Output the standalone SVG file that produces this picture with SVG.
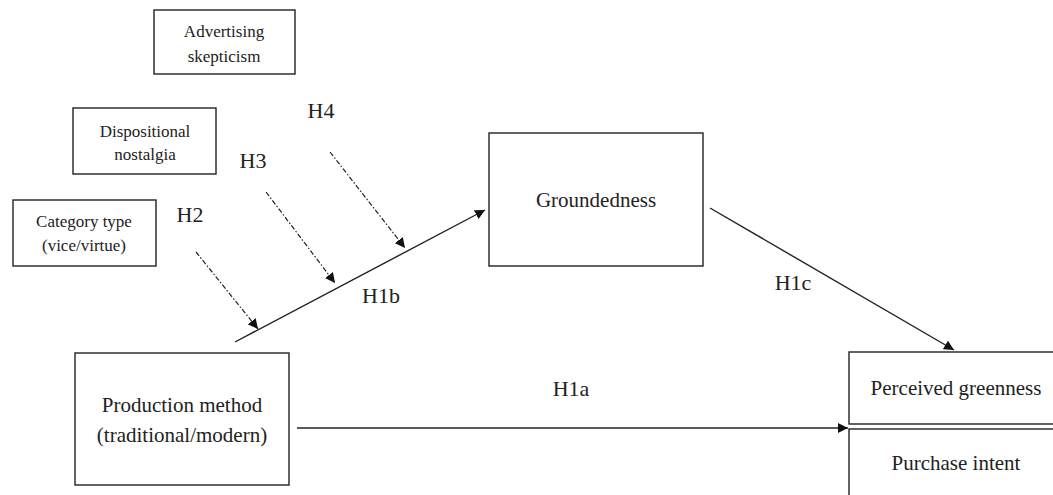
<svg xmlns="http://www.w3.org/2000/svg" width="1053" height="495" viewBox="0 0 1053 495">
<style>
.box{fill:#fff;stroke:#222;stroke-width:1.4}
text{font-family:'Liberation Serif','Times New Roman','DejaVu Serif',serif;fill:#222;text-anchor:middle}
.s{font-size:17px}
.b{font-size:21px}
.h{font-size:22px}
.ln{stroke:#222;stroke-width:1.4;fill:none}
.dd{stroke:#222;stroke-width:1.2;fill:none;stroke-dasharray:5 2 1.5 2}
</style>
<defs>
<marker id="ah" viewBox="0 0 10 10" refX="10" refY="5" markerWidth="10" markerHeight="10" markerUnits="userSpaceOnUse" orient="auto">
<path d="M0,0 L10,5 L0,10 z" fill="#111"/>
</marker>
</defs>
<rect width="1053" height="495" fill="#fff"/>
<g id="advertising-skepticism">
<rect class="box" x="154" y="10" width="141" height="64"/>
<text class="s" x="224" y="37">Advertising</text>
<text class="s" x="224" y="62">skepticism</text>
</g>
<g id="dispositional-nostalgia">
<rect class="box" x="73" y="108" width="143" height="66"/>
<text class="s" x="145" y="137">Dispositional</text>
<text class="s" x="145" y="160">nostalgia</text>
</g>
<g id="category-type">
<rect class="box" x="13" y="200" width="143" height="66"/>
<text class="s" x="84" y="227">Category type</text>
<text class="s" x="84" y="251">(vice/virtue)</text>
</g>
<g id="groundedness">
<rect class="box" x="489" y="133" width="214" height="133"/>
<text class="b" x="596" y="207">Groundedness</text>
</g>
<g id="production-method">
<rect class="box" x="75" y="353" width="214" height="132"/>
<text class="b" x="182" y="412">Production method</text>
<text class="b" x="182" y="442">(traditional/modern)</text>
</g>
<g id="perceived-greenness">
<rect class="box" x="849" y="352" width="210" height="72"/>
<text class="b" x="956" y="395">Perceived greenness</text>
</g>
<g id="purchase-intent">
<rect class="box" x="849" y="429" width="210" height="80"/>
<text class="b" x="956" y="470">Purchase intent</text>
</g>
<g id="connectors">
<line class="ln" x1="235" y1="342" x2="485" y2="210" marker-end="url(#ah)"/>
<line class="ln" x1="710" y1="208" x2="954" y2="350" marker-end="url(#ah)"/>
<line class="ln" x1="297" y1="428" x2="848" y2="428" marker-end="url(#ah)"/>
<line class="dd" x1="196" y1="252" x2="258" y2="329" marker-end="url(#ah)"/>
<line class="dd" x1="266" y1="192" x2="335" y2="283" marker-end="url(#ah)"/>
<line class="dd" x1="330" y1="152" x2="405" y2="248" marker-end="url(#ah)"/>
</g>
<g id="labels">
<text class="h" x="321" y="118">H4</text>
<text class="h" x="253" y="168">H3</text>
<text class="h" x="190" y="222">H2</text>
<text class="h" x="381" y="303">H1b</text>
<text class="h" x="793" y="290">H1c</text>
<text class="h" x="571" y="396">H1a</text>
</g>
</svg>
